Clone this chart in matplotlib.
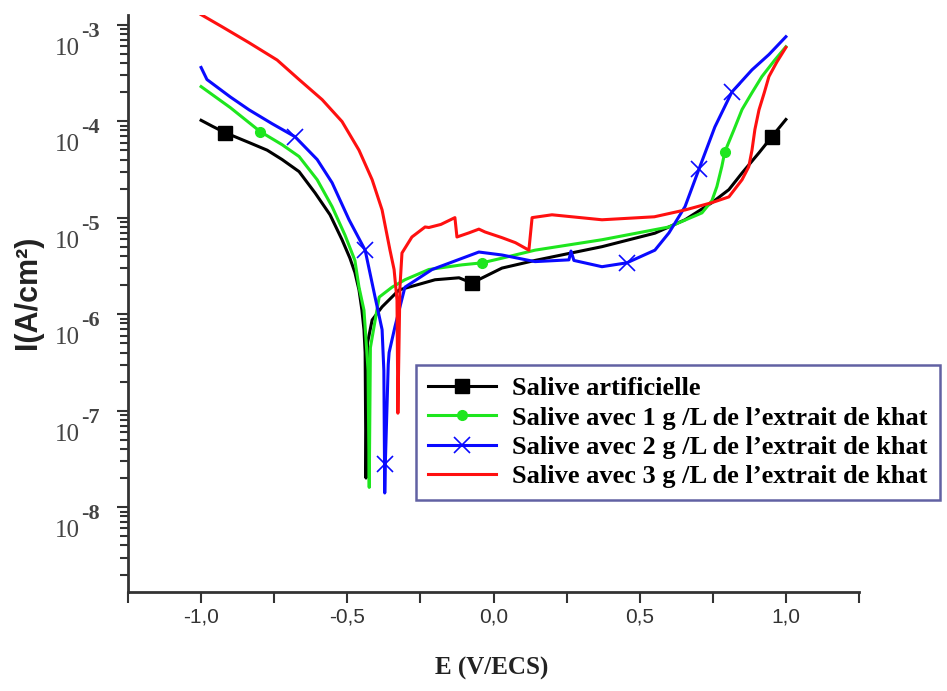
import matplotlib

matplotlib.use("Agg")
import matplotlib.pyplot as plt
import matplotlib.transforms as mtransforms
from matplotlib.font_manager import FontProperties
from matplotlib.ticker import FuncFormatter, LogLocator, MultipleLocator, NullFormatter

# Salive artificielle
E_black = [-1.00, -0.96, -0.918, -0.836, -0.774, -0.723, -0.665, -0.610, -0.559, -0.518,
           -0.491, -0.474, -0.460, -0.450, -0.443, -0.439, -0.436, -0.431, -0.415, -0.381,
           -0.323, -0.200, -0.118, -0.074, 0.029, 0.142, 0.371, 0.552, 0.655, 0.747,
           0.805, 0.850, 0.908, 0.952, 1.00]
I_black = [1.02e-4, 8.8e-5, 7.6e-5, 6.0e-5, 5.0e-5, 4.0e-5, 3.0e-5, 1.8e-5, 1.07e-5, 5.9e-6,
           3.8e-6, 2.7e-6, 1.78e-6, 1.1e-6, 6.9e-7, 4.0e-7, 2.0e-8, 5.0e-7, 8.7e-7, 1.19e-6,
           1.78e-6, 2.27e-6, 2.38e-6, 2.1e-6, 3.0e-6, 3.6e-6, 5.0e-6, 6.9e-6, 9.5e-6, 1.43e-5,
           1.95e-5, 2.9e-5, 4.7e-5, 6.9e-5, 1.04e-4]
black_marks = [-0.918, -0.074, 0.952]

# 1 g/L
E_green = [-1.00, -0.90, -0.798, -0.723, -0.665, -0.603, -0.552, -0.508, -0.474, -0.460,
           -0.443, -0.439, -0.429, -0.425, -0.421, -0.391, -0.347, -0.303, -0.221, -0.108,
           -0.039, 0.029, 0.142, 0.371, 0.600, 0.713, 0.747, 0.764, 0.781, 0.791,
           0.822, 0.850, 0.884, 0.918, 0.962, 1.00]
I_green = [2.28e-4, 1.38e-4, 7.8e-5, 5.7e-5, 4.3e-5, 2.47e-5, 1.3e-5, 6.6e-6, 3.6e-6, 1.9e-6,
           1.1e-6, 7.4e-7, 2.6e-7, 1.6e-8, 4.5e-7, 1.5e-6, 1.9e-6, 2.27e-6, 2.9e-6, 3.24e-6,
           3.4e-6, 3.8e-6, 4.6e-6, 5.9e-6, 8.0e-6, 1.12e-5, 1.5e-5, 2.1e-5, 3.4e-5, 4.8e-5,
           8.1e-5, 1.32e-4, 1.97e-4, 2.9e-4, 4.3e-4, 5.9e-4]
green_marks = [-0.798, -0.039, 0.791]

# 2 g/L
E_blue = [-1.00, -0.98, -0.90, -0.836, -0.757, -0.679, -0.603, -0.552, -0.494, -0.439,
          -0.405, -0.381, -0.375, -0.372, -0.370, -0.360, -0.357, -0.337, -0.303, -0.210,
          -0.050, 0.029, 0.142, 0.258, 0.265, 0.275, 0.371, 0.456, 0.552, 0.600,
          0.655, 0.703, 0.757, 0.815, 0.884, 0.942, 1.00]
I_blue = [3.6e-4, 2.7e-4, 1.78e-4, 1.31e-4, 9.4e-5, 6.9e-5, 4.0e-5, 2.3e-5, 9.5e-6, 4.6e-6,
          1.5e-6, 6.9e-7, 2.6e-7, 1.4e-8, 2.8e-8, 3.0e-7, 4.0e-7, 7.4e-7, 1.9e-6, 2.9e-6,
          4.4e-6, 4.1e-6, 3.5e-6, 3.65e-6, 4.5e-6, 3.6e-6, 3.1e-6, 3.4e-6, 4.6e-6, 6.95e-6,
          1.3e-5, 3.2e-5, 8.7e-5, 2.0e-4, 3.4e-4, 4.9e-4, 7.5e-4]
blue_marks = [-0.679, -0.439, -0.370, 0.456, 0.703, 0.815]

# 3 g/L
E_red = [-1.00, -0.928, -0.836, -0.740, -0.665, -0.586, -0.518, -0.460, -0.415, -0.381,
         -0.354, -0.340, -0.330, -0.327, -0.320, -0.313, -0.279, -0.234, -0.221, -0.180,
         -0.132, -0.125, -0.084, -0.050, -0.029, 0.029, 0.075, 0.121, 0.132, 0.200,
         0.371, 0.550, 0.655, 0.747, 0.805, 0.850, 0.873, 0.884, 0.894, 0.908,
         0.926, 0.942, 0.969, 1.00]
I_red = [1.27e-3, 9.5e-4, 6.5e-4, 4.3e-4, 2.7e-4, 1.67e-4, 9.9e-5, 5.0e-5, 2.47e-5, 1.2e-5,
         4.6e-6, 2.9e-6, 1.4e-6, 9.4e-8, 1.9e-6, 4.3e-6, 6.3e-6, 8.0e-6, 7.9e-6, 8.5e-6,
         1.0e-5, 6.3e-6, 6.95e-6, 7.6e-6, 7.1e-6, 6.2e-6, 5.5e-6, 4.6e-6, 1.0e-5, 1.07e-5,
         9.5e-6, 1.02e-5, 1.2e-5, 1.43e-5, 1.64e-5, 2.47e-5, 3.37e-5, 5.0e-5, 8.2e-5, 1.31e-4,
         1.97e-4, 2.9e-4, 4.1e-4, 5.8e-4]

labels = [
    "Salive artificielle",
    "Salive avec 1 g /L de l\u2019extrait de khat",
    "Salive avec 2 g /L de l\u2019extrait de khat",
    "Salive avec 3 g /L de l\u2019extrait de khat",
]
y_exponents = [-3, -4, -5, -6, -7, -8]

W, H = 947, 691
fig = plt.figure(figsize=(W / 100, H / 100), dpi=100)
ax = fig.add_axes([128 / W, 1 - 592 / H, (859 - 128) / W, (592 - 15) / H])

ax.plot(E_black, I_black, color="black", lw=2.2, marker="s", ms=10,
        markevery=[E_black.index(v) for v in black_marks], label=labels[0])
ax.plot(E_green, I_green, color="#1ee61e", lw=2.2, marker="o", ms=7,
        markevery=[E_green.index(v) for v in green_marks], label=labels[1])
ax.plot(E_blue, I_blue, color="#0a0aff", lw=2.2, marker="x", ms=12, mew=1.2,
        markevery=[E_blue.index(v) for v in blue_marks], label=labels[2])
ax.plot(E_red, I_red, color="#ff1010", lw=2.2, label=labels[3])

ax.set_yscale("log")
ax.set_xlim(-1.25, 1.25)
ax.set_ylim(10 ** -8.88, 10 ** -2.9)

for s in ["top", "right"]:
    ax.spines[s].set_visible(False)
for s in ["left", "bottom"]:
    ax.spines[s].set_linewidth(2)
    ax.spines[s].set_color("#333333")

ax.xaxis.set_major_locator(MultipleLocator(0.5))
ax.xaxis.set_minor_locator(MultipleLocator(0.25))
ax.xaxis.set_major_formatter(FuncFormatter(lambda v, p: f"{v:.1f}".replace(".", ",")))
ax.yaxis.set_major_locator(LogLocator(base=10, numticks=20))
ax.yaxis.set_minor_locator(LogLocator(base=10, subs=range(2, 10), numticks=20))
ax.yaxis.set_major_formatter(NullFormatter())
ax.yaxis.set_minor_formatter(NullFormatter())
ax.tick_params(axis="both", which="both", direction="out", color="#333333", width=1.5)
ax.tick_params(axis="x", which="both", length=8, labelsize=15, labelcolor="#333333", pad=3)
ax.tick_params(axis="y", which="major", length=8)
ax.tick_params(axis="y", which="minor", length=6)
for t in ax.get_xticklabels():
    t.set_fontfamily("Liberation Sans")

# y tick labels: "10" with the exponent raised beside it
trans = mtransforms.blended_transform_factory(ax.transAxes, ax.transData)
for e in y_exponents:
    ax.text(0, 10.0 ** e, "10",
            transform=mtransforms.offset_copy(trans, fig=fig, x=-48, y=-24, units="dots"),
            ha="right", va="center", fontsize=18, family="Liberation Serif", color="#444444")
    ax.text(0, 10.0 ** e, str(e),
            transform=mtransforms.offset_copy(trans, fig=fig, x=-47, y=-7, units="dots"),
            ha="left", va="center", fontsize=16, family="Liberation Serif",
            fontweight="bold", color="#444444")

fig.text(28 / W, 1 - 292 / H, "I(A/cm\u00b2)", rotation=90, ha="center", va="center",
         fontsize=22, fontweight="bold", family="Liberation Sans", color="#222222")
fig.text(492 / W, 1 - 668 / H, "E (V/ECS)", ha="center", va="center",
         fontsize=18, fontweight="bold", family="Liberation Serif", color="#222222")

leg = ax.legend(loc="upper left", bbox_to_anchor=(416 / W, 1 - 365 / H),
                bbox_transform=fig.transFigure, numpoints=1, fancybox=False,
                prop=FontProperties(family="Liberation Serif", weight="bold", size=19),
                handlelength=2.6, labelspacing=0.22, borderpad=0.45, handletextpad=0.6,
                borderaxespad=0)
leg.get_frame().set_edgecolor("#3a3a8c")
leg.get_frame().set_linewidth(1.8)

fig.savefig("out.png", dpi=100)
